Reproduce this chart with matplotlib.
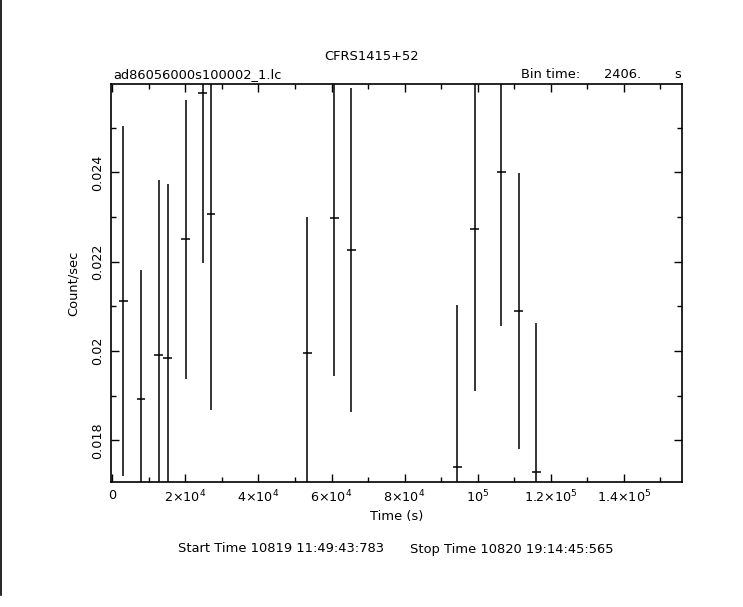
import numpy as np
import matplotlib.pyplot as plt
from matplotlib.lines import Line2D
from matplotlib.ticker import MultipleLocator, FuncFormatter

# light curve bins (s), rates and 1-sigma errors
t = [3012, 7858, 12700, 15160, 20090, 24750, 27030, 53390, 60780, 65440,
     94460, 99220, 106430, 111170, 116010]
rate = [0.02112, 0.01892, 0.01990, 0.01984, 0.02250, 0.02577, 0.02306, 0.01995,
        0.02298, 0.02226, 0.01740, 0.02273, 0.02400, 0.02090, 0.01728]
err = [0.00392, 0.00290, 0.00393, 0.00390, 0.00313, 0.00381, 0.00438, 0.00305,
       0.00355, 0.00362, 0.00363, 0.00362, 0.00343, 0.00309, 0.00334]
binsize = 2406.

xticks = [0, 2e4, 4e4, 6e4, 8e4, 1e5, 1.2e5, 1.4e5]
xlabels = ['0', r'2$\times$10$^4$', r'4$\times$10$^4$', r'6$\times$10$^4$',
           r'8$\times$10$^4$', r'10$^5$', r'1.2$\times$10$^5$', r'1.4$\times$10$^5$']
yticks = [0.018, 0.020, 0.022, 0.024]
ylabels = ['0.018', '0.02', '0.022', '0.024']

plt.rcParams['font.family'] = 'DejaVu Sans'
plt.rcParams['mathtext.fontset'] = 'dejavusans'

fig = plt.figure(figsize=(7.43, 6.07), dpi=100)
ax = fig.add_axes([111/743, 1-482/607, 571/743, 398/607])

ax.errorbar(t, rate, yerr=err, xerr=binsize/2, fmt='none', ecolor='k',
            elinewidth=1.1, capsize=0)

ax.set_xlim(-350, 155900)
ax.set_ylim(0.017066, 0.025978)

ax.set_xticks(xticks)
ax.set_xticklabels(xlabels)
ax.set_yticks(yticks)
ax.set_yticklabels(ylabels, rotation=90, va='center')
ax.xaxis.set_minor_locator(MultipleLocator(1e4))
ax.yaxis.set_minor_locator(MultipleLocator(0.001))
ax.tick_params(which='both', direction='in', top=True, right=True, labelsize=9.2,
               width=1, color='k')
ax.tick_params(which='major', length=6, pad=5)
ax.tick_params(which='minor', length=3.5)
for s in ax.spines.values():
    s.set_linewidth(1.2)

fs = 9.4
ax.set_xlabel('Time (s)', fontsize=fs, labelpad=3)
ax.set_ylabel('Count/sec', fontsize=fs, labelpad=8)

fig.text(0.5, 1-57/607, 'CFRS1415+52', ha='center', va='center', fontsize=fs)
fig.text(113/743, 1-75/607, 'ad86056000s100002_1.lc', ha='left', va='center', fontsize=fs)
fig.text(521/743, 1-75/607, 'Bin time:', ha='left', va='center', fontsize=fs)
fig.text(604/743, 1-75/607, '2406.', ha='left', va='center', fontsize=fs)
fig.text(674/743, 1-75/607, 's', ha='left', va='center', fontsize=fs)
fig.text(178/743, 1-549/607, 'Start Time 10819 11:49:43:783', ha='left', va='center', fontsize=fs)
fig.text(410/743, 1-549/607, 'Stop Time 10820 19:14:45:565', ha='left', va='center', fontsize=fs)

fig.add_artist(Line2D([0.5/743, 0.5/743], [1, 1-595/607], color='k', lw=1.2))

fig.savefig('out.png', dpi=100, facecolor='white')
